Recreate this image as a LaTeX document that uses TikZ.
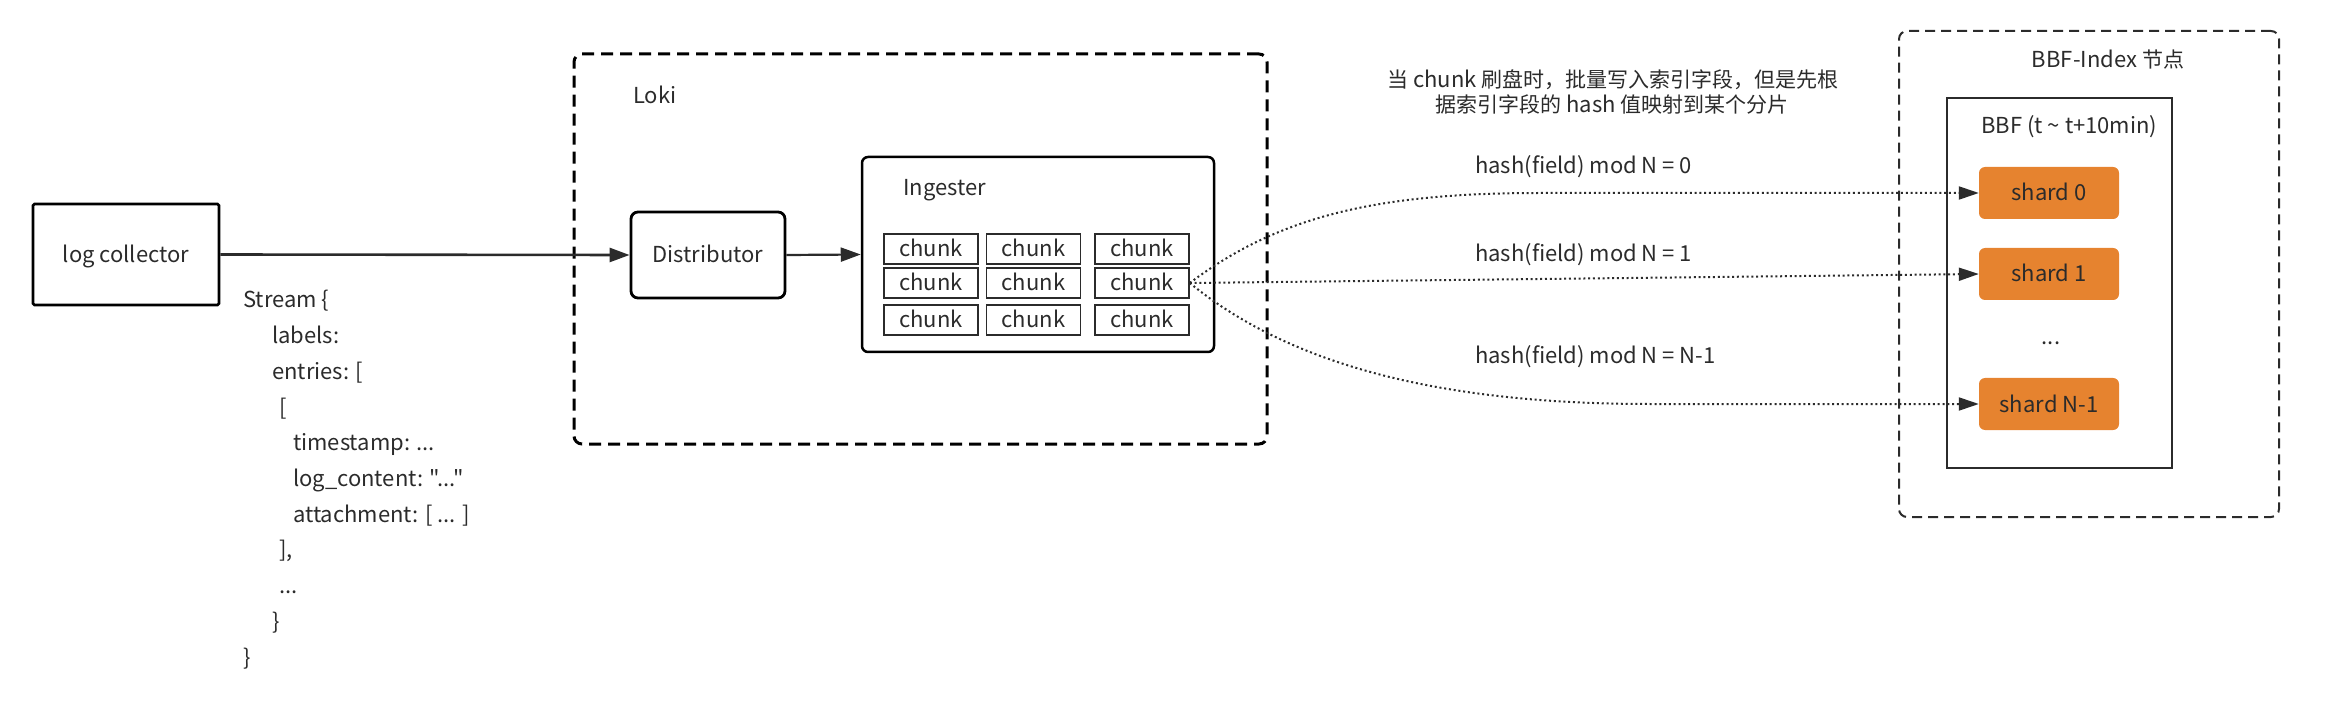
\documentclass[tikz,border=0pt]{standalone}
\usepackage{fontspec}
\setmainfont{Noto Sans CJK SC}[Ligatures=TeXOff]
\usetikzlibrary{arrows.meta}
\definecolor{ink}{HTML}{2B2B2B}
\definecolor{shardorange}{HTML}{E6832F}
\newcommand\zhs[1]{{\fontsize{21}{24}\selectfont #1}}
\tikzset{
  lbl/.style={font=\fontsize{22}{26}\selectfont, text=ink, inner sep=0pt},
  boxtext/.style={lbl, text height=18pt, text depth=2pt, align=center},
  collectorbox/.style={boxtext, draw=black, line width=2.8pt, rounded corners=1.5pt, minimum width=186pt, minimum height=101pt},
  distbox/.style={boxtext, draw=black, line width=2.8pt, rounded corners=7pt, minimum width=154pt, minimum height=86pt},
  ingbox/.style={draw=black, line width=2.5pt, rounded corners=6pt, minimum width=352pt, minimum height=195pt, inner sep=0pt},
  chunkbox/.style={boxtext, draw=ink, line width=1.6pt, minimum width=94pt, minimum height=30pt},
  lokibox/.style={draw=black, line width=3pt, dash pattern=on 12pt off 7pt, rounded corners=8pt, inner sep=0pt},
  bbfouter/.style={draw=ink, line width=2pt, dash pattern=on 10pt off 6pt, rounded corners=8pt, inner sep=0pt},
  bbfinner/.style={draw=ink, line width=2pt, inner sep=0pt},
  shardbox/.style={boxtext, fill=shardorange, rounded corners=6pt, minimum width=140pt, minimum height=52pt},
  flow/.style={draw=ink, line width=2.6pt, -{Triangle[length=20pt,width=14pt]}},
  hashlink/.style={draw=ink, line width=2pt, dash pattern=on 2pt off 2.8pt, -{Triangle[length=20pt,width=13pt]}},
  codeline/.style={lbl, anchor=base west},
}
\begin{document}
\begin{tikzpicture}[x=1pt,y=-1pt]
\useasboundingbox (0,0) rectangle (2326,708);

% Loki group
\node[lokibox, minimum width=693pt, minimum height=390pt] (loki) at (920.5,249) {};
\node[lbl, anchor=base west] (lokilabel) at (633,104) {Loki};

\node[collectorbox] (collector) at (126,254.5) {log collector};
\node[distbox] (dist) at (708,255) {Distributor};
\node[ingbox] (ing) at (1038,254.5) {};
\node[lbl, anchor=base west] (inglabel) at (903,196) {Ingester};

\foreach \r/\y in {1/249,2/283,3/320}
  \foreach \c/\x in {1/931,2/1033.5,3/1142}
    \node[chunkbox] (c\r\c) at (\x,\y) {chunk};

% BBF-Index node
\node[bbfouter, minimum width=380pt, minimum height=486pt] (bbfnode) at (2089,274) {};
\node[lbl, anchor=base] (bbfnodelabel) at (2108,68) {BBF-Index \zhs{节点}};
\node[bbfinner, minimum width=225pt, minimum height=370pt] (bbf) at (2059.5,283) {};
\node[lbl, anchor=base west] (bbflabel) at (1981,134) {BBF (t \textasciitilde{} t+10min)};
\node[shardbox] (s0) at (2049,193) {shard 0};
\node[shardbox] (s1) at (2049,274) {shard 1};
\node[lbl, anchor=base] (sdots) at (2051,345) {...};
\node[shardbox] (sn) at (2049,404) {shard N-1};

% notes
\node[lbl, anchor=base] (note1) at (1613,88) {\zhs{当} chunk \zhs{刷盘时，批量写入索引字段，但是先根}};
\node[lbl, anchor=base] (note2) at (1612,112.5) {\zhs{据索引字段的} hash \zhs{值映射到某个分片}};
\node[lbl, anchor=base west] (h0) at (1475,174) {hash(field) mod N = 0};
\node[lbl, anchor=base west] (h1) at (1475,262) {hash(field) mod N = 1};
\node[lbl, anchor=base west] (hn) at (1475,364) {hash(field) mod N = N-1};

% stream structure
\node[codeline] (st1) at (243,308) {Stream \{};
\node[codeline] (st2) at (272,343.7) {labels:};
\node[codeline] (st3) at (272,379.4) {entries: [};
\node[codeline] (st4) at (279,415.1) {[};
\node[codeline] (st5) at (293,450.8) {timestamp: ...};
\node[codeline] (st6) at (293,486.5) {log\_content: "..."};
\node[codeline] (st7) at (293,522.2) {attachment: [ ... ]};
\node[codeline] (st8) at (279,557.9) {],};
\node[codeline] (st9) at (279,593.6) {...};
\node[codeline] (st10) at (272,629.3) {\}};
\node[codeline] (st11) at (243,665) {\}};

% connectors
\draw[flow] (collector.east) -- (dist.west);
\draw[flow, line width=2.2pt] (dist.east) -- (ing.west);
\draw[hashlink] (c23.east) .. controls (1280,215) and (1380,193) .. (1540,193) -- (s0.west);
\draw[hashlink] (c23.east) -- (s1.west);
\draw[hashlink] (c23.east) .. controls (1290,365) and (1440,404) .. (1650,404) -- (sn.west);
\end{tikzpicture}
\end{document}
